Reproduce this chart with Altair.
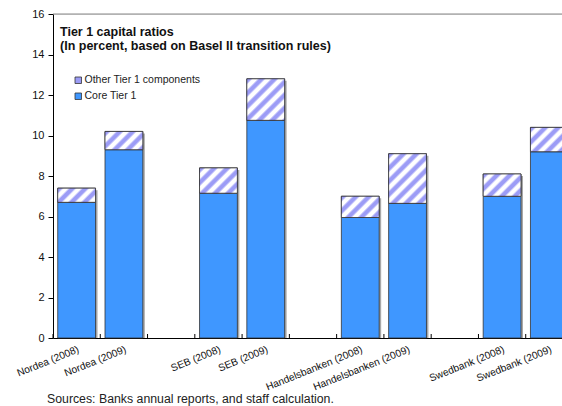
import math
import altair as alt
import pandas as pd

# ---------------- data ----------------
categories = ["Nordea (2008)", "Nordea (2009)", " ",
              "SEB (2008)", "SEB (2009)", "  ",
              "Handelsbanken (2008)", "Handelsbanken (2009)", "   ",
              "Swedbank (2008)", "Swedbank (2009)"]
core = [6.7, 9.3, None, 7.15, 10.75, None, 5.95, 6.65, None, 7.0, 9.2]
other = [0.7, 0.9, None, 1.25, 2.05, None, 1.05, 2.45, None, 1.1, 1.2]
legend_labels = ["Other Tier 1 components", "Core Tier 1"]
title_line1 = ["Tier 1 capital ratios"]
title_line2 = ["(In percent, based on Basel II transition rules)"]
source_note = ["Sources: Banks annual reports, and staff calculation."]
y_ticks = [0, 2, 4, 6, 8, 10, 12, 14, 16]

# ---------------- layout / style ----------------
FONT = "Liberation Sans"
W, H = 509, 324
RANGE_W = 520
STEP = RANGE_W / 11.0
BAR_W = STEP * 0.8
PX_PER_UNIT = H / 16.0
CORE_COL = "#3f97ff"
STRIPE_COL = "#9c9cf6"
PERIOD = 13.0

rows = []
for c, a, b in zip(categories, core, other):
    if a is None:
        continue
    rows.append(dict(bank=c, comp="Core Tier 1", lo=0.0, hi=a, total=a + b))
    rows.append(dict(bank=c, comp="Other Tier 1 components", lo=a, hi=a + b, total=a + b))
df = pd.DataFrame(rows)
df_core = df[df["comp"] == "Core Tier 1"]
df_other = df[df["comp"] == "Other Tier 1 components"]
ticks_df = pd.DataFrame({"bank": categories})

xscale = alt.Scale(domain=categories, range=[0, RANGE_W], paddingInner=0.2, paddingOuter=0.1)
yscale = alt.Scale(domain=[0, 16], nice=False)

x_enc = alt.X("bank:N", scale=xscale, sort=categories,
              axis=alt.Axis(title=None, ticks=False, labelAngle=338, labelAlign="right",
                            labelBaseline="top", labelFontSize=10.2, labelColor="#111",
                            labelPadding=6, domainColor="black", domainWidth=1,
                            labelFont=FONT, labelOverlap=False))
y_axis = alt.Axis(title=None, values=y_ticks, grid=False, tickSize=5, tickColor="black",
                  domainColor="black", labelFontSize=11, labelColor="#111", labelPadding=4,
                  labelFont=FONT, format="d")

shadow = alt.Chart(df_core).mark_bar(color="#a8a8a8", xOffset=2, yOffset=2).encode(
    x=alt.X("bank:N", scale=xscale, sort=categories),
    y=alt.Y("total:Q", scale=yscale, axis=y_axis),
    y2=alt.Y2("lo:Q"),
)

bars = alt.Chart(df).mark_bar(stroke="#333", strokeWidth=0.8).encode(
    x=x_enc,
    y=alt.Y("lo:Q", scale=yscale, axis=y_axis),
    y2="hi:Q",
    color=alt.Color("comp:N",
                    scale=alt.Scale(domain=legend_labels, range=[STRIPE_COL, CORE_COL]),
                    legend=alt.Legend(orient="none", legendX=20, legendY=61, title=None,
                                      symbolType="square", symbolSize=42,
                                      symbolStrokeColor="#333", symbolStrokeWidth=0.8,
                                      labelFontSize=10.5, labelColor="#222", labelFont=FONT,
                                      rowPadding=5, padding=0, labelOffset=1)),
)


def stripe_gradient(h):
    w = BAR_W
    k = (w + h) / (w * w + h * h)
    n = (w + h) / PERIOD
    prof = [(0.0, STRIPE_COL), (0.3, STRIPE_COL), (0.5, "#ffffff"), (0.8, "#ffffff")]
    stops = []
    last = -1.0
    for i in range(int(math.ceil(n)) + 1):
        for f, col in prof:
            off = (i + f) / n
            if off > 1.0:
                break
            if off > last:
                stops.append({"offset": round(off, 4), "color": col})
                last = off
    return {"gradient": "linear", "x1": 0, "y1": 0, "x2": k * w, "y2": k * h, "stops": stops}


stripe_layers = []
for bank_name, seg in zip(df_other["bank"], df_other["hi"] - df_other["lo"]):
    h = seg * PX_PER_UNIT
    sub = df_other[df_other["bank"] == bank_name]
    stripe_layers.append(
        alt.Chart(sub).mark_bar(fill=stripe_gradient(h), stroke="#333", strokeWidth=0.8).encode(
            x=alt.X("bank:N", scale=xscale, sort=categories),
            y=alt.Y("lo:Q", scale=yscale, axis=y_axis),
            y2="hi:Q",
        )
    )

xticks = alt.Chart(ticks_df).mark_rule(color="black", xOffset=-STEP / 2).encode(
    x=alt.X("bank:N", scale=xscale, sort=categories),
    y=alt.value(H - 4),
    y2=alt.value(H),
)

top_line = alt.Chart(pd.DataFrame({"v": [0]})).mark_rule(color="#888", strokeWidth=1).encode(
    x=alt.value(0), x2=alt.value(RANGE_W), y=alt.value(0)
)

title1 = alt.Chart(pd.DataFrame({"t": title_line1})).mark_text(
    align="left", baseline="middle", fontWeight="bold", fontSize=12.5, font=FONT, color="#111"
).encode(text="t:N", x=alt.value(7), y=alt.value(18))

title2 = alt.Chart(pd.DataFrame({"t": title_line2})).mark_text(
    align="left", baseline="middle", fontWeight="bold", fontSize=12.5, font=FONT, color="#111"
).encode(text="t:N", x=alt.value(7), y=alt.value(32))

note = alt.Chart(pd.DataFrame({"t": source_note})).mark_text(
    align="left", baseline="middle", fontSize=12.3, font=FONT, color="#222").encode(
    text="t:N", x=alt.value(-6), y=alt.value(385)
)

chart = alt.layer(shadow, bars, *stripe_layers, xticks, top_line, title1, title2, note).resolve_scale(
    y="shared"
).properties(
    width=W, height=H,
    autosize=alt.AutoSizeParams(type="none"),
    padding={"left": 53, "top": 14, "right": 0, "bottom": 68},
).configure_view(stroke=None).configure(font=FONT)

chart.save("out.html", embed_options={"renderer": "svg", "actions": False})
